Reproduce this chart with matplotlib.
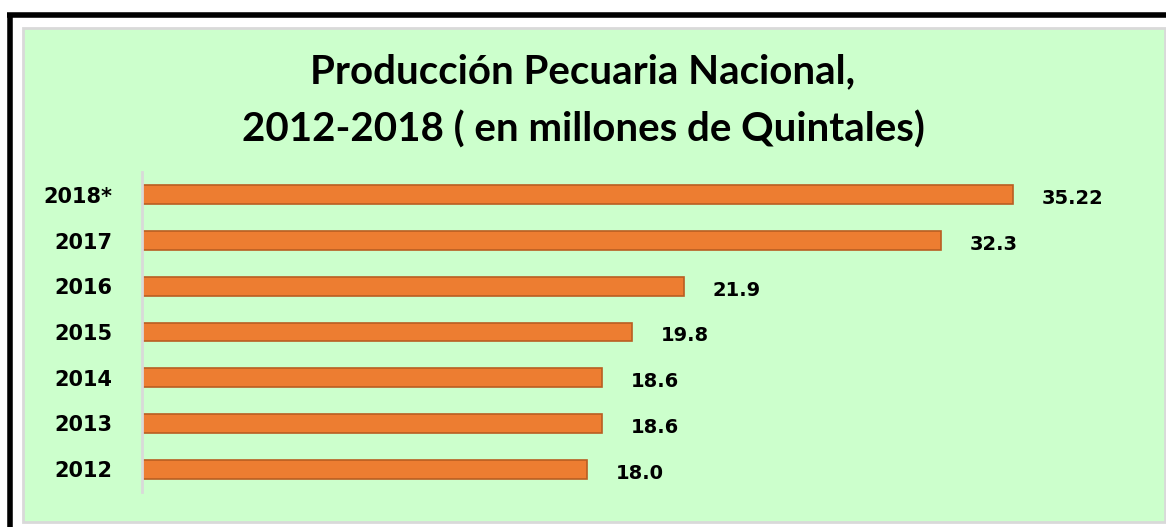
import matplotlib
matplotlib.use("Agg")
import matplotlib.pyplot as plt
from matplotlib.patches import Rectangle
from matplotlib.lines import Line2D

# datos
anios = ['2012', '2013', '2014', '2015', '2016', '2017', '2018*']
produccion = [18.0, 18.6, 18.6, 19.8, 21.9, 32.3, 35.22]
etiquetas = ['18.0', '18.6', '18.6', '19.8', '21.9', '32.3', '35.22']
titulo_1 = 'Producción Pecuaria Nacional,'
titulo_2 = '2012-2018 ( en millones de Quintales)'

W, H = 1166, 527
fig = plt.figure(figsize=(W / 100, H / 100), dpi=100)

# fondo verde con borde gris
fig.patches.append(Rectangle((23 / W, 1 - 522 / H), (1165 - 23) / W, (522 - 28) / H,
                             transform=fig.transFigure, facecolor='#CCFFCC',
                             edgecolor='#D9D9D9', lw=2, zorder=-1))
# marco negro (solo arriba e izquierda visibles)
fig.lines.append(Line2D([7 / W, 1.0], [1 - 15 / H, 1 - 15 / H], transform=fig.transFigure,
                        color='black', lw=4, solid_capstyle='butt'))
fig.lines.append(Line2D([9.5 / W, 9.5 / W], [1 - 13 / H, 0], transform=fig.transFigure,
                        color='black', lw=4, solid_capstyle='butt'))

ax = fig.add_axes([142 / W, (527 - 492) / H, 958 / W, 320 / H])
ax.set_facecolor('none')
ax.barh(range(len(anios)), produccion, height=0.41, color='#ED7D31',
        edgecolor='#B95E22', lw=1.2)
ax.set_xlim(0, 958 / 24.73)
ax.set_ylim(-0.5, len(anios) - 0.5)

for i in range(len(anios)):
    ax.annotate(etiquetas[i], (produccion[i], i), xytext=(21, -2.8),
                textcoords='offset points', ha='left', va='center',
                fontsize=14, fontweight='bold', family='DejaVu Sans')

ax.set_yticks(range(len(anios)))
ax.set_yticklabels(anios, fontsize=15, fontweight='bold', family='DejaVu Sans')
ax.tick_params(axis='y', length=0, pad=21)
ax.set_xticks([])
for s in ['top', 'right', 'bottom']:
    ax.spines[s].set_visible(False)
ax.spines['left'].set_color('#D9D9D9')
ax.spines['left'].set_linewidth(2)

fig.text(583 / W, 1 - 72 / H, titulo_1, ha='center', va='center',
         fontsize=29, fontweight='bold', family='Lato')
fig.text(583 / W, 1 - 130 / H, titulo_2, ha='center', va='center',
         fontsize=29, fontweight='bold', family='Lato')

fig.savefig('out.png', dpi=100)
